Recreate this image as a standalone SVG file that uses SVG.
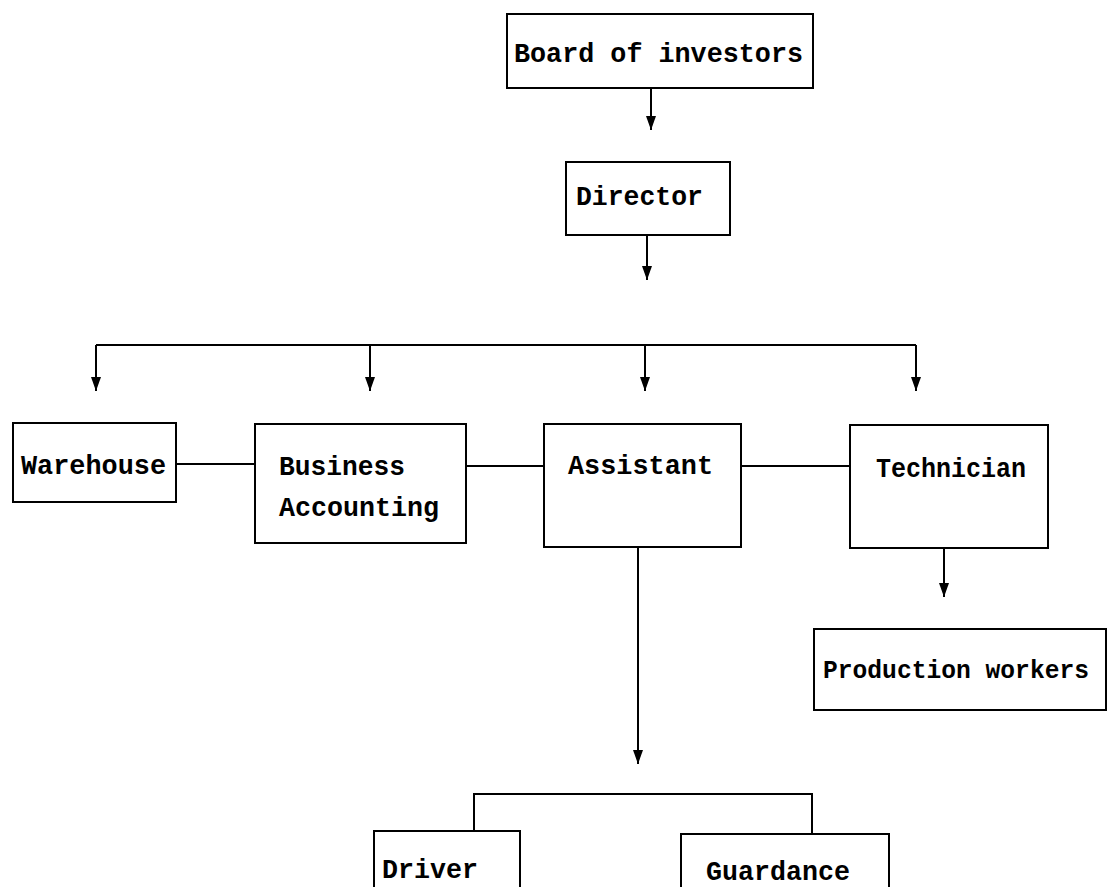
<svg xmlns="http://www.w3.org/2000/svg" width="1110" height="887" viewBox="0 0 1110 887">
<style>
.box{fill:#fff;stroke:#000;stroke-width:2}
.t{font-family:"Liberation Mono","DejaVu Sans Mono",monospace;font-size:27px;fill:#000;font-weight:bold}
.c{fill:none;stroke:#000;stroke-width:2}
</style>
<defs>
<marker id="ah" markerWidth="14" markerHeight="10" refX="14" refY="5" orient="auto" markerUnits="userSpaceOnUse" viewBox="0 0 14 10">
<path d="M0,0 L14,5 L0,10 Z" fill="#000"/>
</marker>
</defs>
<rect width="1110" height="887" fill="#fff"/>
<g id="connectors">
<path class="c" d="M651,88 V130" marker-end="url(#ah)"/>
<path class="c" d="M647,235 V280" marker-end="url(#ah)"/>
<path class="c" d="M96,345 H916"/>
<path class="c" d="M96,345 V391" marker-end="url(#ah)"/>
<path class="c" d="M370,345 V391" marker-end="url(#ah)"/>
<path class="c" d="M645,345 V391" marker-end="url(#ah)"/>
<path class="c" d="M916,345 V391" marker-end="url(#ah)"/>
<path class="c" d="M176,464 H255"/>
<path class="c" d="M466,466 H544"/>
<path class="c" d="M741,466 H850"/>
<path class="c" d="M944,548 V597" marker-end="url(#ah)"/>
<path class="c" d="M638,547 V764" marker-end="url(#ah)"/>
<path class="c" d="M474,831 V794 H812 V834"/>
</g>
<g id="board">
<rect class="box" x="507" y="14" width="306" height="74"/>
<text class="t" x="514" y="62" textLength="289" lengthAdjust="spacingAndGlyphs">Board of investors</text>
</g>
<g id="director">
<rect class="box" x="566" y="162" width="164" height="73"/>
<text class="t" x="576" y="205" textLength="127" lengthAdjust="spacingAndGlyphs">Director</text>
</g>
<g id="warehouse">
<rect class="box" x="13" y="423" width="163" height="79"/>
<text class="t" x="21" y="474" textLength="145" lengthAdjust="spacingAndGlyphs">Warehouse</text>
</g>
<g id="business">
<rect class="box" x="255" y="424" width="211" height="119"/>
<text class="t" x="279" y="475" textLength="126" lengthAdjust="spacingAndGlyphs">Business</text>
<text class="t" x="279" y="516" textLength="160" lengthAdjust="spacingAndGlyphs">Accounting</text>
</g>
<g id="assistant">
<rect class="box" x="544" y="424" width="197" height="123"/>
<text class="t" x="568" y="474" textLength="145" lengthAdjust="spacingAndGlyphs">Assistant</text>
</g>
<g id="technician">
<rect class="box" x="850" y="425" width="198" height="123"/>
<text class="t" x="876" y="477" textLength="150" lengthAdjust="spacingAndGlyphs">Technician</text>
</g>
<g id="production">
<rect class="box" x="814" y="629" width="292" height="81"/>
<text class="t" x="823" y="678" style="font-size:25px" textLength="266" lengthAdjust="spacingAndGlyphs">Production workers</text>
</g>
<g id="driver">
<rect class="box" x="374" y="831" width="146" height="70"/>
<text class="t" x="382" y="878" textLength="96" lengthAdjust="spacingAndGlyphs">Driver</text>
</g>
<g id="guardance">
<rect class="box" x="681" y="834" width="208" height="70"/>
<text class="t" x="706" y="880" textLength="144" lengthAdjust="spacingAndGlyphs">Guardance</text>
</g>
</svg>
